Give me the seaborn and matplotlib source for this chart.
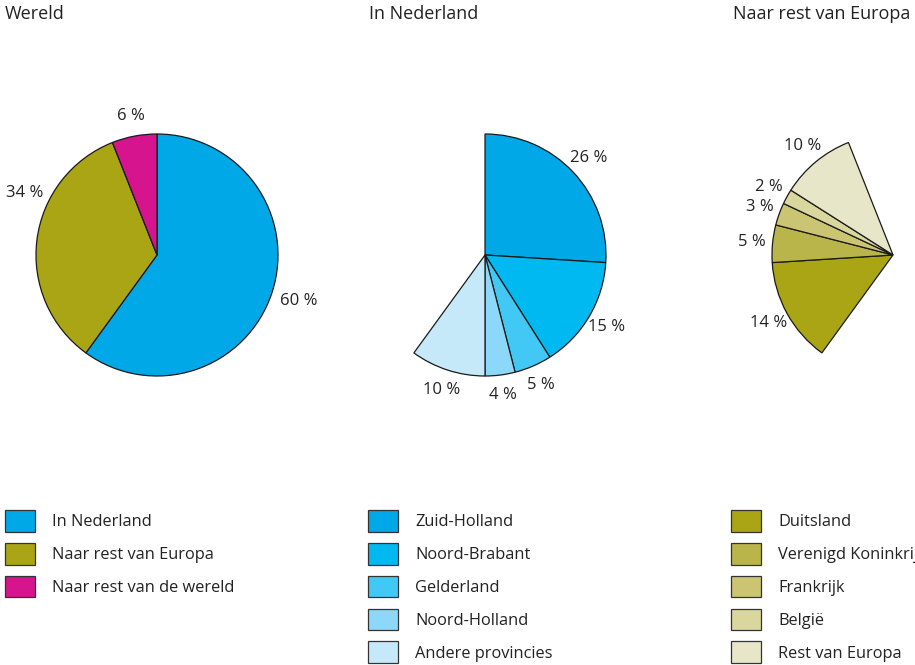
import matplotlib
matplotlib.use("Agg")
import matplotlib.pyplot as plt
import seaborn as sns
import numpy as np

sns.set_theme(style="white")
plt.rcParams['font.family'] = ['Open Sans', 'DejaVu Sans']

# ---- data ----
world_title = "Wereld"
world_labels = ["In Nederland", "Naar rest van Europa", "Naar rest van de wereld"]
world_values = [60, 34, 6]
world_colors = ["#00a8e8", "#a9a514", "#d5148d"]

nl_title = "In Nederland"
nl_labels = ["Zuid-Holland", "Noord-Brabant", "Gelderland", "Noord-Holland", "Andere provincies"]
nl_values = [26, 15, 5, 4, 10]
nl_colors = ["#00a8e8", "#00b9f0", "#42c8f4", "#8dd8f8", "#c6e9fa"]

eu_title = "Naar rest van Europa"
eu_labels = ["Duitsland", "Verenigd Koninkrijk", "Frankrijk", "België", "Rest van Europa"]
eu_values = [14, 5, 3, 2, 10]
eu_colors = ["#a9a514", "#bab54a", "#cbc573", "#dad79e", "#e8e6c9"]

# ---- layout ----
W, H = 915, 665
R = 121  # pie radius in px
fig = plt.figure(figsize=(W / 100, H / 100), dpi=100)
fig.patch.set_facecolor("white")
FS_LAB = 12.0
FS_LEG = 11.8
FS_TITLE = 13.0
TXT = "#222222"


def pie_axes(cx, cy):
    return fig.add_axes([(cx - R) / W, (H - cy - R) / H, 2 * R / W, 2 * R / H])


def draw(ax, values, colors, start_frac, lab_dist=1.17):
    fracs = [v / 100 for v in values]
    wedges, texts = ax.pie(
        fracs, colors=colors, normalize=False,
        startangle=90 - 360 * start_frac, counterclock=False,
        labels=[f"{v} %" for v in values], labeldistance=lab_dist,
        wedgeprops=dict(edgecolor="#1a1a1a", linewidth=0.9),
        textprops=dict(fontsize=FS_LAB, color=TXT),
    )
    for t in texts:
        t.set_horizontalalignment("center")
        t.set_verticalalignment("center")
    ax.set_xlim(-1, 1)
    ax.set_ylim(-1, 1)
    ax.axis("off")
    return wedges, texts


ax1 = pie_axes(157, 255)
w1, t1 = draw(ax1, world_values, world_colors, 0.0)
# 34 % label sits higher in the reference
ang = np.deg2rad(155)
t1[1].set_position((1.21 * np.cos(ang), 1.21 * np.sin(ang)))
t1[0].set_position(np.array(t1[0].get_position()) * 1.05)

ax2 = pie_axes(485, 255)
w2, t2 = draw(ax2, nl_values, nl_colors, 0.0)

ax3 = pie_axes(893, 255)
w3, t3 = draw(ax3, eu_values, eu_colors, world_values[0] / 100)

# titles
for x, title in [(5, world_title), (369, nl_title), (733, eu_title)]:
    fig.text(x / W, 1 - 14 / H, title, fontsize=FS_TITLE, color=TXT, ha="left", va="center")

# legends
for x, wedges, labels in [(5, w1, world_labels), (368, w2, nl_labels), (731, w3, eu_labels)]:
    leg = fig.legend(
        wedges, labels, loc="upper left", bbox_to_anchor=(x / W, 1 - 510 / H),
        frameon=False, fontsize=FS_LEG, borderpad=0, borderaxespad=0,
        handlelength=1.84, handleheight=1.66, handletextpad=1.03, labelspacing=0.68,
        labelcolor=TXT,
    )
    for h in leg.legend_handles:
        h.set_edgecolor("#333333")
        h.set_linewidth(0.9)

fig.savefig("out.png", dpi=100, facecolor="white")
